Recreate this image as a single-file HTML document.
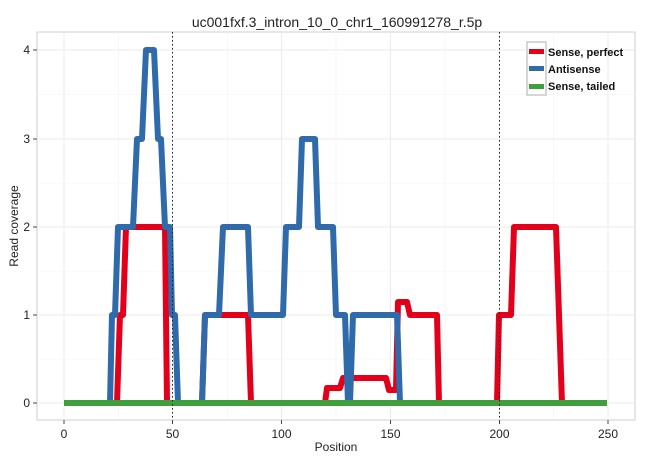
<!DOCTYPE html>
<html><head><meta charset="utf-8"><style>body{margin:0;background:#fff}svg{display:block;font-family:"Liberation Sans",Arial,sans-serif}</style></head><body>
<svg width="650" height="460" viewBox="0 0 650 460">
<rect x="37" y="32" width="598" height="388" fill="#fff" stroke="#cfcfcf" stroke-width="1"/>
<g stroke="#f2f2f2" stroke-width="0.6">
<line x1="118.5" y1="32" x2="118.5" y2="420"/><line x1="227.5" y1="32" x2="227.5" y2="420"/><line x1="336" y1="32" x2="336" y2="420"/><line x1="445" y1="32" x2="445" y2="420"/><line x1="553.5" y1="32" x2="553.5" y2="420"/>
<line x1="37" y1="359" x2="635" y2="359"/><line x1="37" y1="271" x2="635" y2="271"/><line x1="37" y1="183" x2="635" y2="183"/><line x1="37" y1="94.5" x2="635" y2="94.5"/>
</g>
<g stroke="#ebebeb" stroke-width="1">
<line x1="64" y1="32" x2="64" y2="420"/><line x1="172.5" y1="32" x2="172.5" y2="420"/><line x1="281.5" y1="32" x2="281.5" y2="420"/><line x1="390.5" y1="32" x2="390.5" y2="420"/><line x1="499.5" y1="32" x2="499.5" y2="420"/><line x1="608" y1="32" x2="608" y2="420"/>
<line x1="37" y1="403" x2="635" y2="403"/><line x1="37" y1="315" x2="635" y2="315"/><line x1="37" y1="227" x2="635" y2="227"/><line x1="37" y1="139" x2="635" y2="139"/><line x1="37" y1="50" x2="635" y2="50"/>
</g>
<g fill="none" stroke-width="6" stroke-linejoin="round">
<polyline stroke="#e3001b" points="64,403 117,403 120,315 123,315 126,227 165,227 167,403 202,403 205,315 248,315 251,403 325,403 327,388 340,388 343,378 386,378 389,390 396,390 398,302 407,302 410,315 437,315 439,403 497,403 499,315 511,315 514,227 556,227 559,315 562,403 607,403"/>
<polyline stroke="#2f6aaa" points="64,403 110,403 112,315 115,315 118,227 133,227 137,139 142,139 146,50 154,50 158,139 161,139 165,227 170,227 172,315 175,315 178,403 202,403 205,315 219,315 223,227 248,227 251,315 283,315 286,227 299,227 302,139 315,139 318,227 333,227 336,315 345,315 348,403 350,403 353,315 397,315 400,403 607,403"/>
<polyline stroke="#3f9f3d" points="64,403 607,403"/>
</g>
<g stroke="#222" stroke-width="1" stroke-dasharray="1.5,2.5">
<line x1="172.5" y1="32" x2="172.5" y2="420"/><line x1="499.5" y1="32" x2="499.5" y2="420"/>
</g>
<g stroke="#444" stroke-width="1">
<line x1="33" y1="403" x2="37" y2="403"/><line x1="33" y1="315" x2="37" y2="315"/><line x1="33" y1="227" x2="37" y2="227"/><line x1="33" y1="139" x2="37" y2="139"/><line x1="33" y1="50" x2="37" y2="50"/>
<line x1="64" y1="420" x2="64" y2="424"/><line x1="172.5" y1="420" x2="172.5" y2="424"/><line x1="281.5" y1="420" x2="281.5" y2="424"/><line x1="390.5" y1="420" x2="390.5" y2="424"/><line x1="499.5" y1="420" x2="499.5" y2="424"/><line x1="608" y1="420" x2="608" y2="424"/>
</g>
<g font-size="12" fill="#222" text-anchor="end">
<text x="30" y="407">0</text><text x="30" y="319">1</text><text x="30" y="231">2</text><text x="30" y="143">3</text><text x="30" y="54">4</text>
</g>
<g font-size="12" fill="#222" text-anchor="middle">
<text x="64" y="438">0</text><text x="172.5" y="438">50</text><text x="281.5" y="438">100</text><text x="390.5" y="438">150</text><text x="499.5" y="438">200</text><text x="608" y="438">250</text>
<text x="336" y="451">Position</text>
<text x="337" y="27" font-size="14">uc001fxf.3_intron_10_0_chr1_160991278_r.5p</text>
<text transform="translate(18,226) rotate(-90)">Read coverage</text>
</g>
<rect x="527" y="42" width="19" height="53" fill="#fff" stroke="#c8c8c8" stroke-width="1.5"/>
<rect x="529" y="49" width="15" height="5" fill="#e3001b"/>
<rect x="529" y="66" width="15" height="5" fill="#2f6aaa"/>
<rect x="529" y="84" width="15" height="5" fill="#3f9f3d"/>
<g font-size="11" font-weight="bold" fill="#111">
<text x="548" y="56">Sense, perfect</text><text x="548" y="73">Antisense</text><text x="548" y="90">Sense, tailed</text>
</g>
</svg>
</body></html>
